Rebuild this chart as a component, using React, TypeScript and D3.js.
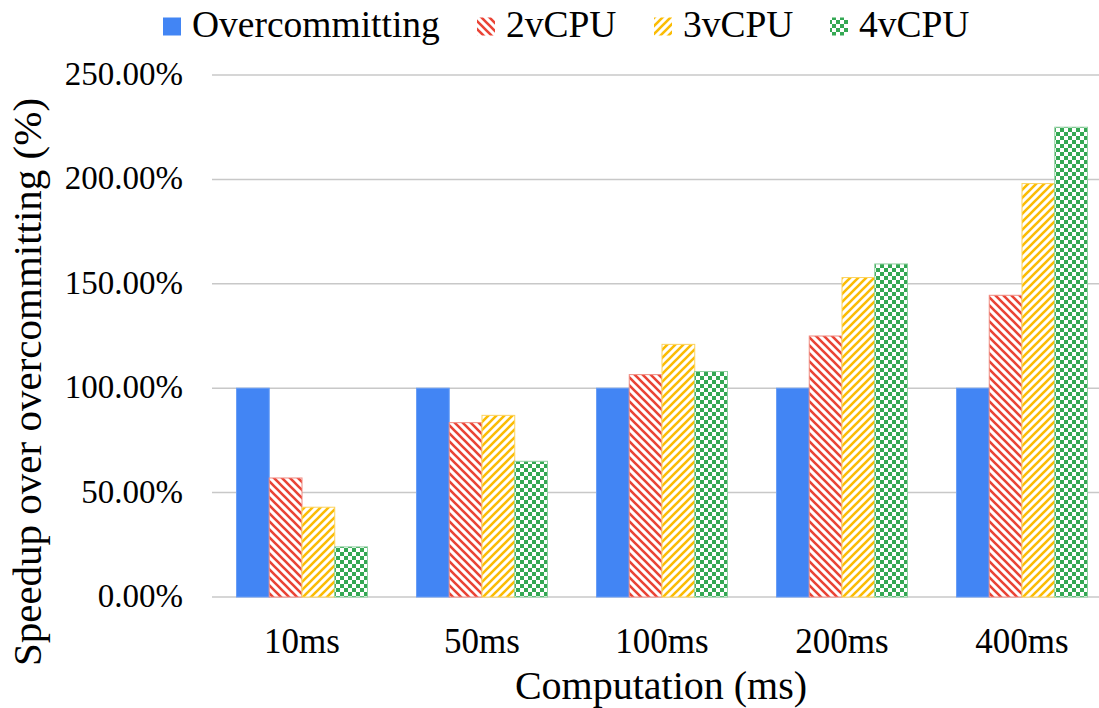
import React from "react";
import * as d3 from "d3";

// Computation times along the x axis
const categories = ["10ms", "50ms", "100ms", "200ms", "400ms"];
const seriesNames = ["Overcommitting", "2vCPU", "3vCPU", "4vCPU"];

// Speedup over overcommitting (%) per computation time
const overcommitting = [100, 100, 100, 100, 100];
const vcpu2 = [57, 83.5, 106.5, 125, 144.5];
const vcpu3 = [43, 87, 121, 153, 198];
const vcpu4 = [24, 65, 108, 159.5, 225];

const yTicks = [0, 50, 100, 150, 200, 250];

const seriesValues = [overcommitting, vcpu2, vcpu3, vcpu4];
const fills = ["#4285F4", "url(#pat-red)", "url(#pat-yellow)", "url(#pat-green)"];
const strokes = ["#6a9ef6", "#f08a80", "#fcd35e", "#8fcf9f"];

const W = 1099;
const H = 708;
const plotLeft = 212;
const plotRight = 1112;
const plotTop = 75;
const plotBottom = 597;

const serif = { fontFamily: "Liberation Serif" };
const textCss = `.chart-text { font-family: "Liberation Serif", "Times New Roman", Times, serif !important; }`;

export default function App() {
  const x0 = d3.scaleBand<string>().domain(categories).range([plotLeft, plotRight]).padding(0);
  const x1 = d3
    .scaleBand<string>()
    .domain(seriesNames)
    .range([24.5, x0.bandwidth() - 24.5])
    .padding(0);
  const y = d3.scaleLinear().domain([0, 250]).range([plotBottom, plotTop]);

  const legendX = [163, 477, 654, 830];

  return (
    <svg width={W} height={H} style={{ position: "absolute", left: 0, top: 0 }}>
      <style>{textCss}</style>
      <defs>
        <pattern id="pat-red" patternUnits="userSpaceOnUse" width="8" height="8">
          <rect width="8" height="8" fill="#fff" />
          <path d="M-2,-2 L10,10 M-2,6 L2,10 M6,-2 L10,2" stroke="#EA4335" strokeWidth="2.6" />
        </pattern>
        <pattern id="pat-yellow" patternUnits="userSpaceOnUse" width="8" height="8">
          <rect width="8" height="8" fill="#fff" />
          <path d="M-2,10 L10,-2 M-2,2 L2,-2 M6,10 L10,6" stroke="#FBBC04" strokeWidth="2.6" />
        </pattern>
        <pattern id="pat-green" patternUnits="userSpaceOnUse" width="8" height="8">
          <rect width="8" height="8" fill="#fff" />
          <rect x="0" y="0" width="4" height="4" fill="#34A853" />
          <rect x="4" y="4" width="4" height="4" fill="#34A853" />
        </pattern>
      </defs>

      <rect width={W} height={H} fill="#fff" />

      {/* horizontal gridlines */}
      {yTicks.map((t) => (
        <line
          key={t}
          x1={plotLeft}
          x2={W}
          y1={y(t)}
          y2={y(t)}
          stroke="#c8c8c8"
          strokeWidth={1.5}
        />
      ))}

      {/* y tick labels */}
      {yTicks.map((t) => (
        <text
          key={t}
          className="chart-text"
          x={183}
          y={y(t) + 10}
          textAnchor="end"
          fontSize={33}
          style={serif}
        >
          {d3.format(".2f")(t)}%
        </text>
      ))}

      {/* bars */}
      {categories.map((c, ci) => (
        <g key={c} transform={`translate(${x0(c)},0)`}>
          {seriesNames.map((s, si) => {
            const v = seriesValues[si][ci];
            return (
              <rect
                key={s}
                x={x1(s)}
                y={y(v)}
                width={x1.bandwidth()}
                height={y(0) - y(v)}
                fill={fills[si]}
                stroke={strokes[si]}
                strokeWidth={1}
              />
            );
          })}
        </g>
      ))}

      {/* category labels */}
      {categories.map((c) => (
        <text
          key={c}
          className="chart-text"
          x={(x0(c) as number) + x0.bandwidth() / 2}
          y={653}
          textAnchor="middle"
          fontSize={35}
          style={serif}
        >
          {c}
        </text>
      ))}

      {/* axis titles */}
      <text
        className="chart-text"
        x={661}
        y={699}
        textAnchor="middle"
        fontSize={40}
        style={serif}
      >
        Computation (ms)
      </text>
      <text
        className="chart-text"
        transform={`translate(41,382) rotate(-90)`}
        textAnchor="middle"
        fontSize={41}
        style={serif}
      >
        Speedup over overcommitting (%)
      </text>

      {/* legend */}
      {seriesNames.map((name, i) => (
        <g key={name}>
          <rect x={legendX[i]} y={17.5} width={18} height={18} fill={fills[i]} />
          <text
            className="chart-text"
            x={legendX[i] + 29}
            y={37}
            fontSize={37.5}
            style={serif}
          >
            {name}
          </text>
        </g>
      ))}
    </svg>
  );
}
